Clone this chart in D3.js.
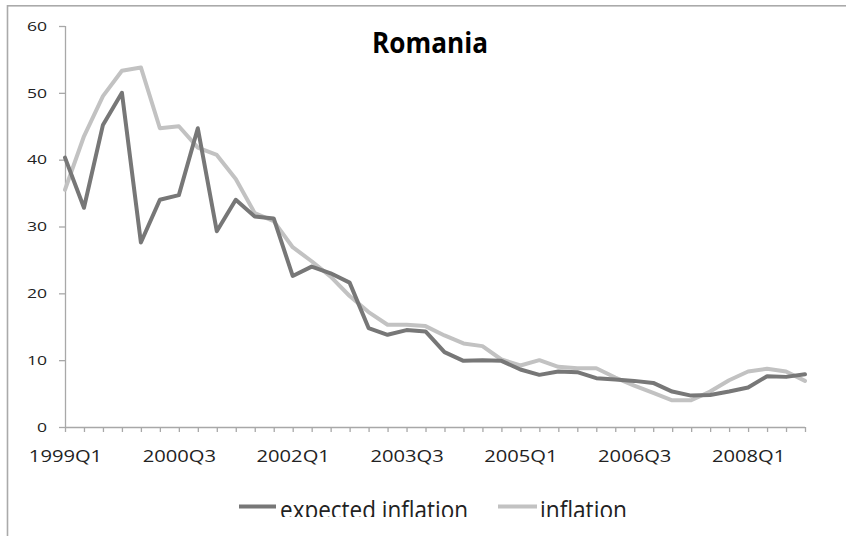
<!DOCTYPE html>
<html>
<head>
<meta charset="utf-8">
<script src="https://cdn.jsdelivr.net/npm/d3@7"></script>
<style>
  body { margin: 0; background: #fff; }
  svg { display: block; }
</style>
</head>
<body>
<div id="chart"></div>
<script>

var quarters = [
	"1999Q1","1999Q2","1999Q3","1999Q4","2000Q1","2000Q2","2000Q3","2000Q4",
	"2001Q1","2001Q2","2001Q3","2001Q4","2002Q1","2002Q2","2002Q3","2002Q4",
	"2003Q1","2003Q2","2003Q3","2003Q4","2004Q1","2004Q2","2004Q3","2004Q4",
	"2005Q1","2005Q2","2005Q3","2005Q4","2006Q1","2006Q2","2006Q3","2006Q4",
	"2007Q1","2007Q2","2007Q3","2007Q4","2008Q1","2008Q2","2008Q3","2008Q4"
];

var expectedInflation = [
	40.3, 32.8, 45.2, 50.0, 27.6, 34.0, 34.7, 44.7,
	29.3, 34.0, 31.5, 31.2, 22.6, 24.0, 23.0, 21.6,
	14.8, 13.8, 14.5, 14.3, 11.2, 9.9, 10.0, 9.9,
	8.6, 7.8, 8.3, 8.2, 7.3, 7.1, 6.9, 6.6,
	5.3, 4.7, 4.8, 5.3, 5.9, 7.6, 7.5, 7.9
];

var inflation = [
	35.5, 43.5, 49.5, 53.3, 53.8, 44.7, 45.0, 41.8,
	40.7, 37.1, 32.0, 30.8, 26.9, 24.8, 22.5, 19.6,
	17.2, 15.3, 15.3, 15.1, 13.7, 12.5, 12.1, 10.1,
	9.2, 10.0, 9.0, 8.8, 8.8, 7.4, 6.2, 5.1,
	4.0, 4.0, 5.3, 7.0, 8.3, 8.7, 8.3, 6.9
];

var yTicks = [0, 10, 20, 30, 40, 50, 60];
var seriesNames = ["expected inflation", "inflation"];

var config = {
	width : 846,
	height : 536,
	left : 65,
	right : 805,
	top : 26,
	bottom : 427,
	colors : ['#777777', '#c2c2c2'],
	axisColor : '#a8a8a8',
	font : "'Open Sans', 'Liberation Sans', sans-serif",
	stretch : 1.35
};

var svg = d3.select("#chart").append("svg")
	.attr("width", config.width)
	.attr("height", config.height);

// outer chart frame (only top and left visible)
svg.append("rect")
	.attr("x", 7.5)
	.attr("y", 5.8)
	.attr("width", 900)
	.attr("height", 600)
	.attr("fill", "none")
	.attr("stroke", "#aaaaaa")
	.attr("stroke-width", 1.6);

var x = d3.scalePoint()
	.domain(quarters)
	.range([config.left, config.right]);

var y = d3.scaleLinear()
	.domain([0, 60])
	.range([config.bottom, config.top]);

function stretchText(sel, factor) {
	sel.each(function() {
		var w = this.getComputedTextLength();
		d3.select(this)
			.attr("textLength", w * factor)
			.attr("lengthAdjust", "spacingAndGlyphs");
	});
}

/* axes */
var xAxis = d3.axisBottom(x)
	.tickValues(quarters)
	.tickSize(5)
	.tickPadding(19)
	.tickFormat(function(d, i) { return (i % 6 === 0) ? d : ""; });

var gx = svg.append("g")
	.attr("transform", "translate(0," + config.bottom + ")")
	.call(xAxis);

gx.select(".domain").attr("stroke", config.axisColor).attr("stroke-width", 1.3)
	.attr("d", "M" + config.left + ",0.5H" + config.right);
gx.selectAll(".tick line").attr("stroke", config.axisColor).attr("stroke-width", 1.3);
gx.selectAll(".tick text")
	.attr("font-family", config.font)
	.attr("font-size", "15.5px")
	.attr("fill", "#222");
stretchText(gx.selectAll(".tick text").filter(function(d, i) { return i % 6 === 0; }), 1.3);

var yAxis = d3.axisLeft(y)
	.tickValues(yTicks)
	.tickSize(6)
	.tickPadding(12);

var gy = svg.append("g")
	.attr("transform", "translate(" + config.left + ",0)")
	.call(yAxis);

gy.select(".domain").attr("stroke", config.axisColor).attr("stroke-width", 1.3)
	.attr("d", "M0.5," + config.top + "V" + config.bottom);
gy.selectAll(".tick line").attr("stroke", config.axisColor).attr("stroke-width", 1.3);
gy.selectAll(".tick text")
	.attr("font-family", config.font)
	.attr("font-size", "13px")
	.attr("fill", "#222");
stretchText(gy.selectAll(".tick text"), config.stretch);

/* lines */
var line = d3.line()
	.x(function(d, i) { return x(quarters[i]); })
	.y(function(d) { return y(d); });

// inflation is drawn first so expected inflation lies on top
[inflation, expectedInflation].forEach(function(series, k) {
	svg.append("path")
		.datum(series)
		.attr("d", line)
		.attr("fill", "none")
		.attr("stroke", k === 0 ? config.colors[1] : config.colors[0])
		.attr("stroke-width", 4)
		.attr("stroke-linejoin", "round")
		.attr("stroke-linecap", "round");
});

/* title */
var title = svg.append("text")
	.attr("x", 430)
	.attr("y", 53)
	.attr("text-anchor", "middle")
	.attr("font-family", config.font)
	.attr("font-weight", "bold")
	.attr("font-size", "28px")
	.attr("fill", "#000")
	.text("Romania");
title.attr("textLength", 116).attr("lengthAdjust", "spacingAndGlyphs");

/* legend, cut off at the bottom like the source picture */
svg.append("clipPath")
	.attr("id", "legendClip")
	.append("rect")
	.attr("x", 0).attr("y", 0)
	.attr("width", config.width).attr("height", 517);

var legend = svg.append("g").attr("clip-path", "url(#legendClip)");

var legendItems = [
	{ name : seriesNames[0], color : config.colors[0], x1 : 239, x2 : 276, tx : 280, tw : 188 },
	{ name : seriesNames[1], color : config.colors[1], x1 : 498, x2 : 537, tx : 540, tw : 87 }
];

legendItems.forEach(function(d) {
	legend.append("line")
		.attr("x1", d.x1).attr("x2", d.x2)
		.attr("y1", 506.5).attr("y2", 506.5)
		.attr("stroke", d.color)
		.attr("stroke-width", 4);
	legend.append("text")
		.attr("x", d.tx)
		.attr("y", 519)
		.attr("font-family", config.font)
		.attr("font-size", "25px")
		.attr("fill", "#222")
		.attr("textLength", d.tw)
		.attr("lengthAdjust", "spacingAndGlyphs")
		.text(d.name);
});

</script>
</body>
</html>
